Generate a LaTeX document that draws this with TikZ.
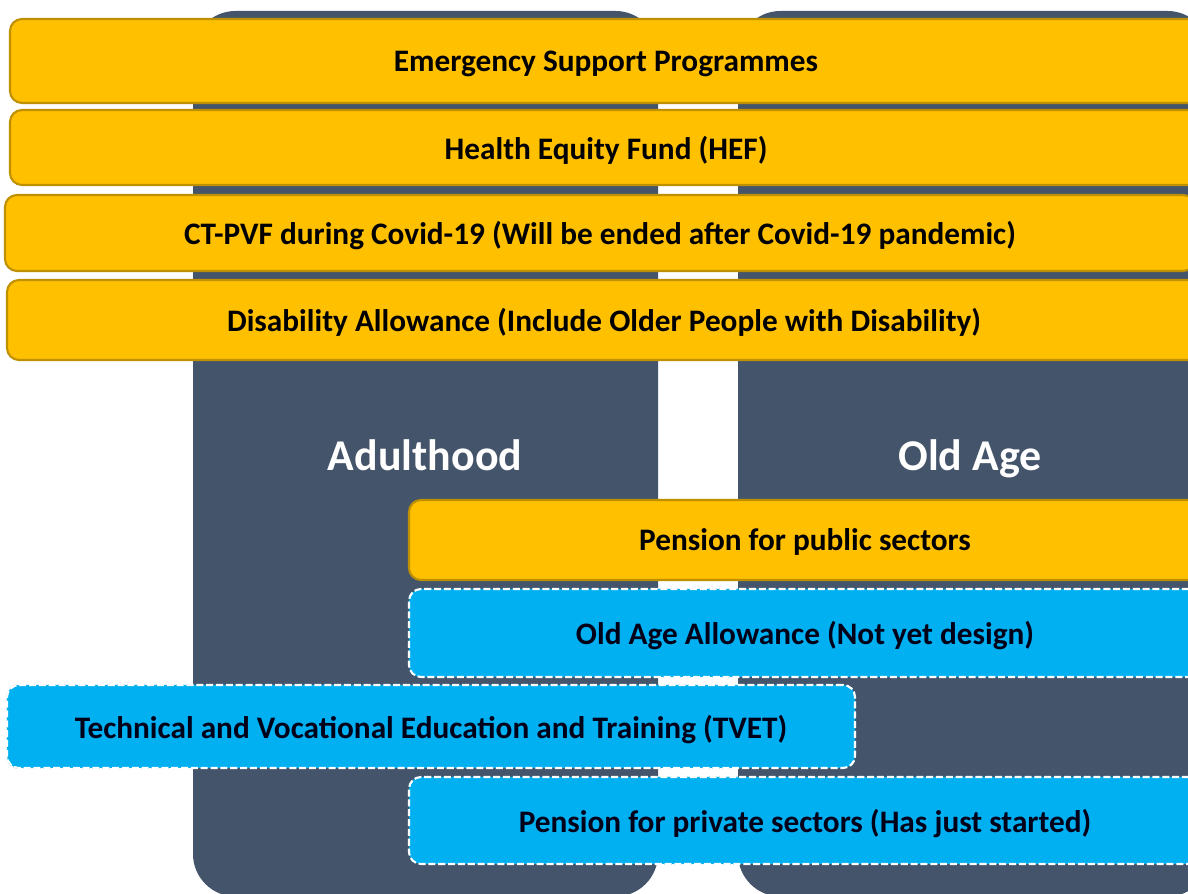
\documentclass[tikz,border=0pt]{standalone}
\usepackage{fontspec}
\setmainfont{Carlito}
\usepackage{xcolor}
\usepackage{tikz}
\usetikzlibrary{positioning, calc}

\definecolor{slate}{HTML}{44546A}
\definecolor{gold}{HTML}{FFC000}
\definecolor{goldline}{HTML}{BF9000}
\definecolor{sky}{HTML}{00B0F0}
\definecolor{skyline}{HTML}{1A8CC4}

\begin{document}
\begin{tikzpicture}[
    column/.style={fill=slate, rounded corners=0.85cm},
    ybar/.style={rectangle, rounded corners=0.24cm, fill=gold, draw=goldline, line width=1.2pt,
        font=\bfseries\fontsize{17.8}{20}\selectfont, text=black, inner sep=0pt, text depth=0pt},
    bbar/.style={rectangle, rounded corners=0.24cm, fill=sky, draw=white, line width=1.2pt,
        dash pattern=on 4pt off 1.6pt, preaction={draw=skyline, line width=1pt},
        font=\bfseries\fontsize{17.8}{20}\selectfont, text=black!90!blue, inner sep=0pt, text depth=0pt},
    stage/.style={text=white, font=\bfseries\fontsize{25}{30}\selectfont, inner sep=0pt, text depth=0pt}
]
    \clip (0,0) rectangle (23.76,17.88);
    \fill[white] (0,0) rectangle (23.76,17.88);

    % Life stage columns
    \fill[column] (3.86,-0.05) rectangle (13.16,17.66);
    \fill[column] (14.76,-0.05) rectangle (24.2,17.66);

    % Programmes for all ages
    \node[ybar, minimum width=23.84cm, minimum height=1.68cm] (emergency) at (12.12,16.66) {Emergency Support Programmes};
    \node[ybar, minimum width=23.84cm, minimum height=1.5cm] (hef) at (12.12,14.93) {Health Equity Fund (HEF)};
    \node[ybar, minimum width=23.8cm, minimum height=1.52cm] (ctpvf) at (12.0,13.22) {CT-PVF during Covid-19 (Will be ended after Covid-19 pandemic)};
    \node[ybar, minimum width=23.88cm, minimum height=1.6cm] (disability) at (12.08,11.48) {Disability Allowance (Include Older People with Disability)};

    % Stage titles
    \node[stage] (adulthood) at (8.5,8.78) {Adulthood};
    \node[stage] (oldage) at (19.4,8.78) {Old Age};

    % Adult and old age programmes
    \node[ybar, minimum width=15.84cm, minimum height=1.6cm] (publicpension) at (16.1,7.08) {Pension for public sectors};
    \node[bbar, minimum width=15.84cm, minimum height=1.76cm] (allowance) at (16.1,5.22) {Old Age Allowance (Not yet design)};
    \node[bbar, minimum width=16.96cm, minimum height=1.66cm] (tvet) at (8.62,3.35) {Technical and Vocational Education and Training (TVET)};
    \node[bbar, minimum width=15.84cm, minimum height=1.74cm] (privatepension) at (16.1,1.47) {Pension for private sectors (Has just started)};

\end{tikzpicture}
\end{document}
